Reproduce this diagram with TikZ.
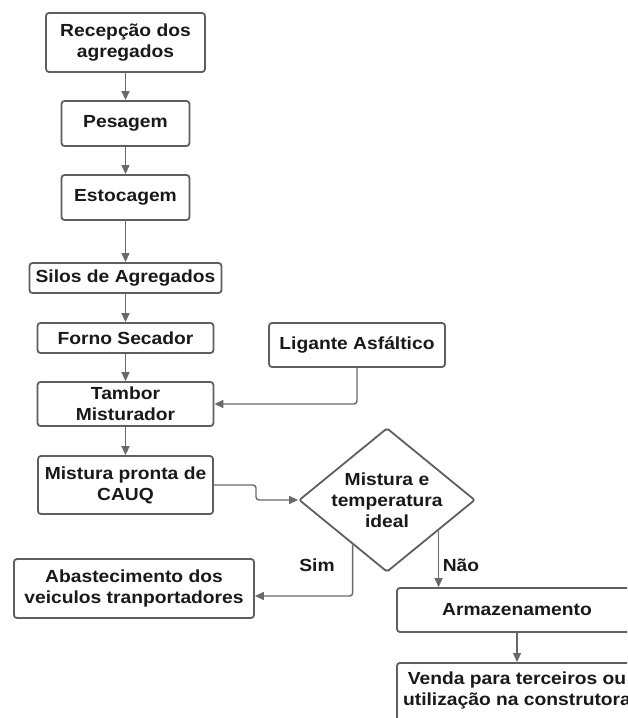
\documentclass[tikz,border=0pt]{standalone}
\usepackage{fontspec}
\setmainfont{Liberation Sans}[FakeStretch=1.1]
\usetikzlibrary{shapes.geometric,arrows.meta,calc}
\definecolor{boxgray}{RGB}{95,95,95}
\definecolor{linegray}{RGB}{105,105,105}
\definecolor{txt}{RGB}{25,25,25}
\begin{document}
\begin{tikzpicture}[x=1pt,y=-1pt,
  proc/.style={draw=boxgray,line width=1.8pt,rounded corners=3pt,fill=white,
    inner sep=0pt,align=center,text=txt,
    font=\fontsize{17.5}{21}\selectfont\bfseries},
  dec/.style={draw=boxgray,line width=1.8pt,shape=diamond,inner sep=0pt,
    fill=white,minimum width=176pt,minimum height=144pt,rounded corners=2pt},
  lbl/.style={text=txt,font=\fontsize{17.5}{21}\selectfont\bfseries,align=center,inner sep=0pt},
  conn/.style={draw=linegray,line width=1.4pt,-{Triangle[length=9pt,width=8pt]}}
]
\useasboundingbox (0,0) rectangle (627,718);
\clip (0,0) rectangle (627,718);
\fill[white] (0,0) rectangle (627,718);

\node[proc,minimum width=159pt,minimum height=59pt] (rec) at (125.5,42.5) {Recepção dos\\agregados};
\node[proc,minimum width=128pt,minimum height=45pt] (pes) at (125.5,123.5) {Pesagem};
\node[proc,minimum width=128pt,minimum height=45pt] (est) at (125.5,197.5) {Estocagem};
\node[proc,minimum width=192pt,minimum height=30pt] (sil) at (125.5,278) {Silos de Agregados};
\node[proc,minimum width=176pt,minimum height=30pt] (for) at (125.5,338) {Forno Secador};
\node[proc,minimum width=176pt,minimum height=44pt] (lig) at (357,345) {Ligante Asfáltico};
\node[proc,minimum width=176pt,minimum height=44pt] (tam) at (125.5,404) {Tambor\\Misturador};
\node[proc,minimum width=175pt,minimum height=58pt] (mp) at (125.5,485) {Mistura pronta de\\CAUQ};
\node[dec] (d) at (387,500) {};
\node[lbl] (dt) at (387,500) {Mistura e\\temperatura\\ideal};
\node[proc,minimum width=240pt,minimum height=59pt] (ab) at (134,588.5) {Abastecimento dos\\veiculos tranportadores};
\node[proc,minimum width=240pt,minimum height=44pt] (arm) at (517,610) {Armazenamento};
\node[proc,minimum width=240pt,minimum height=80pt,anchor=north] (ven) at (517,662) {};
\node[lbl] (vt) at (517,690) {Venda para terceiros ou\\utilização na construtora};

\node[lbl] (sim) at (317,565) {Sim};
\node[lbl] (nao) at (461,565) {Não};

\draw[conn] (rec.south) -- (rec.south |- pes.north);
\draw[conn] (pes.south) -- (pes.south |- est.north);
\draw[conn] (est.south) -- (est.south |- sil.north);
\draw[conn] (sil.south) -- (sil.south |- for.north);
\draw[conn] (for.south) -- (for.south |- tam.north);
\draw[conn] (tam.south) -- (tam.south |- mp.north);
\draw[conn,rounded corners=3pt] (lig.south) |- (tam.east);
\draw[conn,rounded corners=3pt] (mp.east) -- (256,485) |- (d.west);
\coordinate (s1) at ($(d.south)!0.386!(d.west)$);
\coordinate (n1) at ($(d.south)!0.58!(d.east)$);
\draw[conn,rounded corners=3pt] (s1) |- ([yshift=-7.5pt]ab.east);
\draw[conn] (n1) -- (n1 |- arm.north);
\draw[conn] (arm.south) -- (ven.north);
\end{tikzpicture}
\end{document}
